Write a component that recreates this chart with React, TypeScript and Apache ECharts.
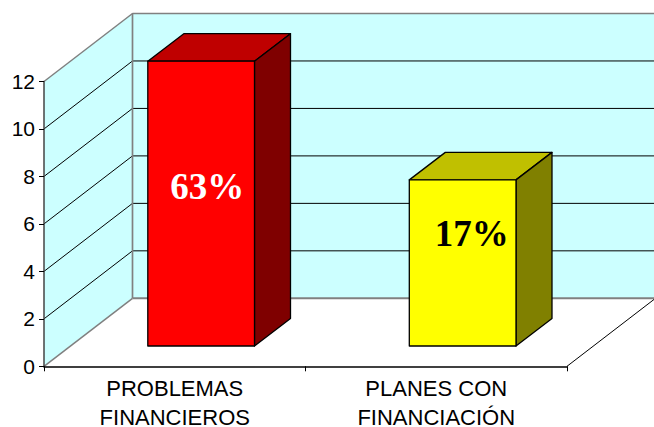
import React, { useEffect, useRef } from "react";
import * as echarts from "echarts";

const categories = ["PROBLEMAS\nFINANCIEROS", "PLANES CON\nFINANCIACIÓN"];
const values = [12, 7];
const percentLabels = ["63%", "17%"];
const gridValues = [2, 4, 6, 8, 10, 12];

const WALL_DX = 88.5, WALL_DY = -68;
const BAR_INSET_DX = 26.4, BAR_INSET_DY = -20.3;
const BAR_DX = 36, BAR_DY = -27.5;
const BAR_WIDTH_RATIO = 0.408;
const FACE = ["#FF0000", "#FFFF00"];
const TOP = ["#BF0000", "#C0C000"];
const SIDE = ["#7F0000", "#808000"];
const LABEL_COLOR = ["#FFFFFF", "#000000"];
const LABEL_SHIFT = [[6, -17], [9, -29]];
const WALL = "#CCFFFF";
const EDGE = "#808080";

const poly = (points: number[][], fill: string, stroke = "#000", lineWidth = 1.3) => ({
  type: "polygon",
  shape: { points },
  style: { fill, stroke, lineWidth, lineJoin: "round" },
});
const seg = (x1: number, y1: number, x2: number, y2: number, stroke: string, lineWidth = 1) => ({
  type: "line",
  shape: { x1, y1, x2, y2 },
  style: { stroke, lineWidth, fill: "none" },
});

function renderWalls(_p: any, api: any) {
  const [x0, y0] = api.coord([0, 0]);
  const [, yTop] = api.coord([0, 12]);
  const band = api.size([1, 0])[0];
  const x1 = x0 + band * 1.5;
  const xL = x0 - band / 2;
  const bx = xL + WALL_DX;
  const d = WALL_DY;
  const children: any[] = [
    { type: "polygon", shape: { points: [[bx, yTop + d], [x1 + WALL_DX, yTop + d], [x1 + WALL_DX, y0 + d], [bx, y0 + d]] }, style: { fill: WALL } },
    { type: "polygon", shape: { points: [[xL, yTop], [bx, yTop + d], [bx, y0 + d], [xL, y0]] }, style: { fill: WALL } },
  ];
  gridValues.forEach((v) => {
    const y = api.coord([0, v])[1];
    if (v < 12) {
      children.push(seg(xL, y, bx, y + d, "#000", 1));
    }
    children.push(seg(bx, y + d, x1 + WALL_DX, y + d, "#000", 1));
  });
  children.push(
    seg(xL, yTop, bx, yTop + d, EDGE, 1.5),
    seg(bx, yTop + d, x1 + WALL_DX, yTop + d, EDGE, 1.7),
    seg(bx, yTop + d, bx, y0 + d, EDGE, 1.7),
    seg(bx, y0 + d, x1 + WALL_DX, y0 + d, EDGE, 2),
    seg(xL, y0, bx, y0 + d, EDGE, 1.5),
    seg(x1, y0, x1 + WALL_DX, y0 + d, "#000", 1),
  );
  return { type: "group", children };
}

function renderBar(params: any, api: any) {
  const i = params.dataIndex;
  const idx = api.value(0);
  const [cx, y0] = api.coord([idx, 0]);
  const [, yv] = api.coord([idx, api.value(1)]);
  const w = api.size([1, 0])[0] * BAR_WIDTH_RATIO;
  const l = cx - w / 2 + BAR_INSET_DX;
  const r = cx + w / 2 + BAR_INSET_DX;
  const b = y0 + BAR_INSET_DY;
  const t = yv + BAR_INSET_DY;
  return {
    type: "group",
    children: [
      poly([[l, t], [l + BAR_DX, t + BAR_DY], [r + BAR_DX, t + BAR_DY], [r, t]], TOP[i]),
      poly([[r, t], [r + BAR_DX, t + BAR_DY], [r + BAR_DX, b + BAR_DY], [r, b]], SIDE[i]),
      poly([[l, t], [r, t], [r, b], [l, b]], FACE[i]),
      {
        type: "text",
        x: (l + r) / 2 + LABEL_SHIFT[i][0],
        y: (t + b) / 2 + LABEL_SHIFT[i][1],
        style: {
          text: percentLabels[i],
          fill: LABEL_COLOR[i],
          font: 'bold 37px "Liberation Serif"',
          align: "center",
          verticalAlign: "middle",
        },
      },
    ],
  };
}

export default function App() {
  const ref = useRef<HTMLDivElement>(null);
  useEffect(() => {
    const chart = echarts.init(ref.current!, null, { renderer: "svg" });
    chart.setOption({
      animation: false,
      backgroundColor: "#FFFFFF",
      grid: { left: 44, right: 87, top: 81.5, bottom: 60.7, outerBoundsMode: "none" },
      xAxis: {
        type: "category",
        data: categories,
        z: 5,
        axisLine: { lineStyle: { color: "#000", width: 1.5 } },
        axisTick: { show: true, length: 5, alignWithLabel: false, lineStyle: { color: "#000", width: 1 } },
        axisLabel: { color: "#000", fontFamily: "Liberation Sans", fontSize: 22, lineHeight: 29, margin: 8, interval: 0 },
      },
      yAxis: {
        type: "value",
        min: 0,
        max: 12,
        interval: 2,
        z: 5,
        splitLine: { show: false },
        axisLine: { show: true, lineStyle: { color: "#444", width: 1.5 } },
        axisTick: { show: true, length: 5, lineStyle: { color: "#000", width: 1 } },
        axisLabel: { color: "#000", fontFamily: "Liberation Sans", fontSize: 21, margin: 9 },
      },
      series: [
        { type: "custom", z: 1, silent: true, clip: false, renderItem: renderWalls, data: [[0, 0]], encode: { x: 0, y: 1 } },
        { type: "custom", z: 3, silent: true, clip: false, renderItem: renderBar, data: values.map((v, i) => [i, v]), encode: { x: 0, y: 1 } },
      ],
    });
    return () => chart.dispose();
  }, []);
  return <div ref={ref} style={{ position: "absolute", left: 0, top: 0, width: 654, height: 427 }} />;
}
